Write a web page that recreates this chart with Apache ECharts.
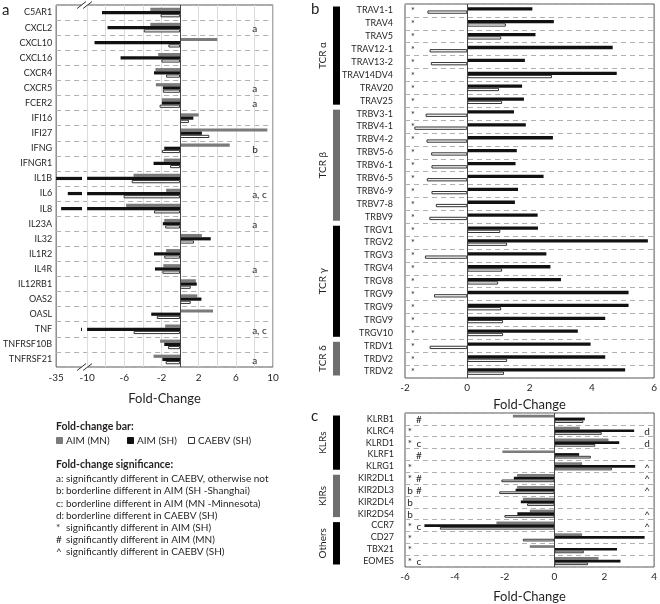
<!DOCTYPE html>
<html><head><meta charset="utf-8">
<script src="https://cdn.jsdelivr.net/npm/echarts@6/dist/echarts.min.js"></script>
<style>html,body{margin:0;padding:0;background:#fff}#c{width:660px;height:604px}</style>
</head><body><div id="c"></div><script>
// ---------- Panel a data ----------
const catA = ['C5AR1','CXCL2','CXCL10','CXCL16','CXCR4','CXCR5','FCER2','IFI16','IFI27','IFNG','IFNGR1','IL1B','IL6','IL8','IL23A','IL32','IL1R2','IL4R','IL12RB1','OAS2','OASL','TNF','TNFRSF10B','TNFRSF21'];
const mnA = [-3.2,-3.2,4.0,-2.35,-2.65,-2.6,-1.95,2.0,9.4,5.35,-1.75,-5.0,-1.5,-5.8,-1.7,2.35,-1.5,-1.8,1.7,1.85,3.55,-1.6,-2.15,-2.85];
const shA = [-8.4,-7.8,-9.2,-6.4,-2.8,-1.85,-1.95,1.43,2.35,-1.7,-2.85,-35,-25.6,-31,-1.85,3.3,-2.8,-2.7,1.8,2.3,-3.1,-14.9,-1.7,-1.9];
const caA = [-2.1,-3.9,-1.25,-2.0,-1.5,-1.85,-2.2,0.96,3.15,-1.95,-1.07,-5.2,-6.07,-2.8,-1.6,1.5,-1.7,-1.9,1.15,1.15,-2.5,-5.0,-1.3,-1.55];
const annA = ['','a','','','','a','a','','','b','','','a, c','','a','','','a','','','','a, c','','a'];
const ticksA = [-35,-10,-6,-2,2,6,10];
const gridA = [-10,-8,-6,-4,-2,0,2,4,6,8,10];

// ---------- Panel b data ----------
const catB = ['TRAV1-1','TRAV4','TRAV5','TRAV12-1','TRAV13-2','TRAV14DV4','TRAV20','TRAV25','TRBV3-1','TRBV4-1','TRBV4-2','TRBV5-6','TRBV6-1','TRBV6-5','TRBV6-9','TRBV7-8','TRBV9','TRGV1','TRGV2','TRGV3','TRGV4','TRGV8','TRGV9','TRGV9','TRGV9','TRGV10','TRDV1','TRDV2','TRDV2'];
const shB = [2.09,2.78,2.19,4.67,1.85,4.8,1.76,1.82,1.5,1.88,2.75,1.59,1.55,2.45,1.63,1.53,2.26,2.27,5.8,2.54,2.67,3.01,5.18,5.18,4.43,3.55,3.96,4.43,5.07];
const caB = [-1.28,1.24,1.09,-1.21,-1.17,2.72,1.02,1.12,-1.34,-1.7,-1.31,-1.16,-1.15,-1.3,-1.15,-1.01,-1.22,1.06,1.28,-1.36,1.12,0.99,-1.07,1.09,1.15,1.15,-1.21,1.28,1.18];
const annB = catB.map(() => '*');
const groupNamesB = ['TCR α','TCR β','TCR γ','TCR δ'];
const groupStartB = [0,8,17,26];
const groupEndB = [7,16,25,28];

// ---------- Panel c data ----------
const catC = ['KLRB1','KLRC4','KLRD1','KLRF1','KLRG1','KIR2DL1','KIR2DL3','KIR2DL4','KIR2DS4','CCR7','CD27','TBX21','EOMES'];
const mnC = [-1.67,1.02,2.17,-2.09,1.11,-1.5,-1.5,-1.27,-0.99,-2.33,1.11,-0.99,1.77];
const shC = [1.22,3.2,2.6,0.99,3.24,-1.63,-1.56,-1.35,-1.49,-5.22,3.62,2.51,2.65];
const caC = [1.16,1.9,1.64,1.46,2.31,-2.13,-2.22,-1.1,-2.01,-4.6,-1.27,1.18,1.35];
const annC1 = ['','*','*','','*','*','b','b','b','*','*','*','*'];
const annC2 = ['#','','c','#','','#','#','','','c','','','c'];
const annCR = ['','d','d','','^','^','^','','^','^','','',''];
const groupNamesC = ['KLRs','KIRs','Others'];
const groupStartC = [0,5,9];
const groupEndC = [4,8,12];

// ---------- Legend texts ----------
const seriesNames = ['AIM (MN)','AIM (SH)','CAEBV (SH)'];
const noteKeys = ['a:','b:','c:','d:','*','#','^'];
const noteTexts = ['significantly different in CAEBV, otherwise not','borderline different in AIM (SH -Shanghai)','borderline different in AIM (MN -Minnesota)','borderline different in CAEBV (SH)','significantly different in AIM (SH)','significantly different in AIM (MN)','significantly different in CAEBV (SH)'];

// ---------- styles ----------
const FONT = 'Lato';
const TXT = '#231f20';
const GRAY = '#7b7b7b', BLACK = '#111111', WHITE = '#ffffff', OUTLINE = '#333333';
const SERIES_STYLE = [{fill: GRAY, stroke: null},{fill: BLACK, stroke: null},{fill: WHITE, stroke: OUTLINE}];

// broken axis transform for panel a (values below -10 are compressed)
const K = 3.33 / 25;
const BRK_HI = -10, BRK_LO = -10.55;
function tA(v){ return v >= -10 ? v : -10 + (v + 10) * K; }
function invA(t){ return t >= -10.001 ? t : -10 + (t + 10) / K; }

function barRender(slot, nSlots, h, sty, brk) {
  return function (params, api) {
    const v = api.value(0), i = api.value(1);
    const cy = api.coord([0, i])[1];
    const y = cy - nSlots * h / 2 + slot * h;
    const children = [];
    function rect(a, b) {
      const pa = api.coord([a, i])[0], pb = api.coord([b, i])[0];
      children.push({type: 'rect',
        shape: {x: Math.min(pa, pb) + (sty.stroke ? 0.5 : 0), y: y + (sty.stroke ? 0.5 : 0), width: Math.max(Math.abs(pb - pa) - (sty.stroke ? 1 : 0), 0.5), height: h - (sty.stroke ? 1 : 0)},
        style: {fill: sty.fill, stroke: sty.stroke || null, lineWidth: sty.stroke ? 1 : 0}});
    }
    if (brk && v < BRK_HI) { rect(0, BRK_HI); if (v < BRK_LO) rect(BRK_LO, v); }
    else rect(0, v);
    return {type: 'group', children};
  };
}

const series = [];
function addBars(p, vals, tf, sIdx, slot, nSlots, h, brk) {
  series.push({type: 'custom', name: seriesNames[sIdx], xAxisIndex: p, yAxisIndex: p, z: 3,
    data: vals.map((v, i) => [tf(v), i]), encode: {x: 0, y: 1},
    renderItem: barRender(slot, nSlots, h, SERIES_STYLE[sIdx], brk)});
}
const id = v => v;
addBars(0, mnA, tA, 0, 0, 3, 3.2, false);
addBars(0, shA, tA, 1, 1, 3, 3.2, true);
addBars(0, caA, tA, 2, 2, 3, 3.2, false);
addBars(1, shB, id, 1, 0, 2, 3.3, false);
addBars(1, caB, id, 2, 1, 2, 3.3, false);
addBars(2, mnC, id, 0, 0, 3, 2.7, false);
addBars(2, shC, id, 1, 1, 3, 2.7, false);
addBars(2, caC, id, 2, 2, 3, 2.7, false);

// zero lines
[0,1,2].forEach(p => {
  series.push({type: 'custom', xAxisIndex: p, yAxisIndex: p, z: 5, silent: true, data: [[0, 0]],
    renderItem: (params, api) => {
      const cs = params.coordSys; const x = Math.round(api.coord([0, 0])[0]) + 0.5;
      return {type: 'line', shape: {x1: x, y1: cs.y, x2: x, y2: cs.y + cs.height}, style: {stroke: '#444', lineWidth: 1}};
    }});
});

// annotations
function addAnn(p, texts, offset, align, size) {
  series.push({type: 'custom', xAxisIndex: p, yAxisIndex: p, z: 6, silent: true,
    data: texts.map((t, i) => [0, i]),
    renderItem: (params, api) => {
      const t = texts[params.dataIndex]; if (!t) return null;
      const cs = params.coordSys; const y = api.coord([0, api.value(1)])[1];
      const x = offset >= 0 ? cs.x + offset : cs.x + cs.width + offset;
      return {type: 'text', x: x, y: y + 1, style: {text: t, fill: TXT, font: size + 'px ' + FONT, align: align, verticalAlign: 'middle'}};
    }});
}
addAnn(0, annA, 196, 'left', 10);
addAnn(1, annB, 8, 'center', 9);
addAnn(2, annC1, 5, 'center', 10);
addAnn(2, annC2, 14, 'center', 10);
addAnn(2, annCR, -7, 'center', 10);

// group bars
function addGroups(p, names, starts, ends, colors) {
  series.push({type: 'custom', xAxisIndex: p, yAxisIndex: p, z: 6, silent: true, clip: false,
    data: names.map((n, i) => [0, starts[i], ends[i]]),
    renderItem: (params, api) => {
      const cs = params.coordSys; const bh = api.size([0, 1])[1];
      const y1 = api.coord([0, api.value(1)])[1] - bh / 2 + 2.5;
      const y2 = api.coord([0, api.value(2)])[1] + bh / 2 - 2.5;
      const k = params.dataIndex;
      return {type: 'group', children: [
        {type: 'rect', shape: {x: cs.x - 72, y: y1, width: 7, height: y2 - y1}, style: {fill: colors[k % colors.length]}},
        {type: 'text', x: cs.x - 82, y: (y1 + y2) / 2, rotation: Math.PI / 2,
          style: {text: names[k], fill: TXT, font: '10px ' + FONT, align: 'center', verticalAlign: 'middle'}}
      ]};
    }});
}
addGroups(1, groupNamesB, groupStartB, groupEndB, ['#000000', '#6e6e6e']);
addGroups(2, groupNamesC, groupStartC, groupEndC, ['#000000', '#6e6e6e']);

// axis break marks for panel a
series.push({type: 'custom', xAxisIndex: 0, yAxisIndex: 0, z: 7, silent: true, clip: false, data: [[-10.27, 0]],
  renderItem: (params, api) => {
    const cs = params.coordSys; const cx = api.coord([api.value(0), 0])[0];
    const ch = [];
    [cs.y, cs.y + cs.height].forEach(y => {
      ch.push({type: 'rect', shape: {x: cx - 3, y: y - 1.5, width: 6, height: 3}, style: {fill: '#fff'}});
      [-3, 3].forEach(d => ch.push({type: 'line', shape: {x1: cx + d - 4.5, y1: y + 3.5, x2: cx + d + 4.5, y2: y - 3.5}, style: {stroke: '#333', lineWidth: 1}}));
    });
    return {type: 'group', children: ch};
  }});

const axisLabelStyle = {color: TXT, fontFamily: FONT, fontSize: 10};
const catLabelStyle = {color: TXT, fontFamily: FONT, fontSize: 9};
const nameStyle = {color: TXT, fontFamily: FONT, fontSize: 13};
const dashed = {show: true, lineStyle: {color: '#b0b0b0', type: [5, 4], width: 1}};

// legend / notes graphics
const graphic = [];
graphic.push({type: 'text', left: 2, top: 3, style: {text: 'a', font: '15px ' + FONT, fill: TXT}});
graphic.push({type: 'text', left: 311, top: 2, style: {text: 'b', font: '15px ' + FONT, fill: TXT}});
graphic.push({type: 'text', left: 311, top: 409, style: {text: 'c', font: '15px ' + FONT, fill: TXT}});
graphic.push({type: 'text', x: 56, y: 427, style: {text: 'Fold-change bar:', font: 'bold 10.5px ' + FONT, fill: TXT, verticalAlign: 'middle'}});
const legX = [56, 127, 188];
seriesNames.forEach((n, i) => {
  const s = SERIES_STYLE[i];
  graphic.push({type: 'rect', shape: {x: legX[i] + 0.5, y: 437.5, width: 6, height: 6}, style: {fill: s.fill, stroke: s.stroke || s.fill, lineWidth: 1}});
  graphic.push({type: 'text', x: legX[i] + 10, y: 441, style: {text: n, font: '10px ' + FONT, fill: TXT, verticalAlign: 'middle'}});
});
graphic.push({type: 'text', x: 56, y: 465, style: {text: 'Fold-change significance:', font: 'bold 10.5px ' + FONT, fill: TXT, verticalAlign: 'middle'}});
noteKeys.forEach((k, i) => {
  const y = 479 + i * 12.2;
  graphic.push({type: 'text', x: 56, y: y, style: {text: k, font: '10px ' + FONT, fill: TXT, verticalAlign: 'middle'}});
  graphic.push({type: 'text', x: 66, y: y, style: {text: noteTexts[i], font: '10px ' + FONT, fill: TXT, verticalAlign: 'middle'}});
});

const option = {
  animation: false,
  backgroundColor: '#fff',
  grid: [
    {left: 56, top: 5, width: 217, height: 362, show: true, borderColor: '#555', borderWidth: 1, containLabel: false},
    {left: 405, top: 4, width: 251, height: 374, show: true, borderColor: '#555', borderWidth: 1, containLabel: false},
    {left: 405, top: 413, width: 252, height: 160, show: true, borderColor: '#555', borderWidth: 1, containLabel: false}
  ],
  xAxis: [
    {type: 'value', gridIndex: 0, min: tA(-35), max: 10,
      axisLine: {show: false},
      axisTick: {show: false, customValues: gridA},
      splitLine: {show: true, lineStyle: {color: '#dcdcdc', width: 1}},
      axisLabel: Object.assign({customValues: ticksA.map(tA), margin: 6, formatter: v => String(Math.round(invA(v)))}, axisLabelStyle),
      name: 'Fold-Change', nameLocation: 'middle', nameGap: 25, nameTextStyle: nameStyle},
    {type: 'value', gridIndex: 1, min: -2, max: 6, interval: 2,
      axisLine: {show: false}, axisTick: {show: false}, splitLine: {show: false},
      axisLabel: Object.assign({margin: 5}, axisLabelStyle),
      name: 'Fold-Change', nameLocation: 'middle', nameGap: 20, nameTextStyle: nameStyle},
    {type: 'value', gridIndex: 2, min: -6, max: 4, interval: 2,
      axisLine: {show: false}, axisTick: {show: false}, splitLine: {show: false},
      axisLabel: Object.assign({margin: 5}, axisLabelStyle),
      name: 'Fold-Change', nameLocation: 'middle', nameGap: 23, nameTextStyle: nameStyle}
  ],
  yAxis: [
    {type: 'category', gridIndex: 0, data: catA, inverse: true, axisLine: {show: false}, axisTick: {show: false},
      splitLine: dashed, axisLabel: Object.assign({margin: 4, interval: 0}, catLabelStyle)},
    {type: 'category', gridIndex: 1, data: catB, inverse: true, axisLine: {show: false}, axisTick: {show: false},
      splitLine: dashed, axisLabel: Object.assign({margin: 12, interval: 0}, catLabelStyle)},
    {type: 'category', gridIndex: 2, data: catC, inverse: true, axisLine: {show: false}, axisTick: {show: false},
      splitLine: dashed, axisLabel: Object.assign({margin: 11, interval: 0}, catLabelStyle)}
  ],
  graphic: graphic,
  series: series
};
const chart = echarts.init(document.getElementById('c'), null, {renderer: 'canvas'});
chart.setOption(option);
</script></body></html>
